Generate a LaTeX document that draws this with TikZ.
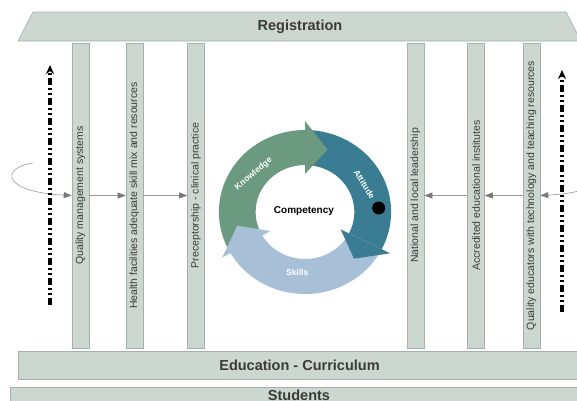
\documentclass[tikz,border=0pt]{standalone}
\usepackage{fontspec}
\setmainfont{Liberation Sans}
\usetikzlibrary{arrows.meta}
\definecolor{bandfill}{HTML}{CDD7D2}
\definecolor{bandline}{HTML}{A6B0AB}
\definecolor{txt}{HTML}{3A3A3A}
\definecolor{flowgray}{HTML}{9A9A9A}
\definecolor{headgray}{HTML}{7A7A7A}
\definecolor{kgreen}{HTML}{6C9A80}
\definecolor{ateal}{HTML}{3A7D92}
\definecolor{sblue}{HTML}{A7C0D7}
\begin{document}
\begin{tikzpicture}[x=1pt,y=-1pt,
  band/.style={fill=bandfill,draw=bandline,line width=0.6pt},
  bar/.style={band,rotate=90,minimum width=305pt,minimum height=17pt,inner sep=0pt,
    font=\fontsize{10.5}{12}\selectfont,text=txt},
  bigtext/.style={font=\fontsize{14.5}{16}\selectfont\bfseries,text=txt},
  flow/.style={draw=flowgray,line width=0.6pt,-{Triangle[length=8pt,width=6pt,color=headgray]}},
  dda/.style={line width=3.2pt,dash pattern=on 7pt off 3pt on 2pt off 3pt on 2pt off 3pt,
    -{Stealth[length=9pt,width=8pt]}},
  ctext/.style={font=\fontsize{8.5}{10}\selectfont\bfseries,text=white}
]
\useasboundingbox (0,0) rectangle (577,400);
\clip (0,0) rectangle (577,400);
\fill[white] (0,0) rectangle (577,400);

% top band
\path[band] (33,12) -- (566,12) -- (581,41) -- (18,41) -- cycle;
\node[bigtext] (reg) at (300,26.5) {Registration};

% bottom bands
\path[band] (18,351) rectangle (600,379);
\node[bigtext] (edu) at (299.5,365) {Education - Curriculum};
\path[band] (10,387) rectangle (600,430);
\node[bigtext,anchor=base] (stu) at (299,400.5) {Students};

% vertical bars
\node[bar] (b1) at (80.5,195.5) {Quality management systems};
\node[bar] (b2) at (134.5,195.5) {Health facilities adequate skill mix and resources};
\node[bar] (b3) at (196,195.5) {Preceptorship - clinical practice};
\node[bar] (b4) at (415.5,195.5) {National and local leadership};
\node[bar] (b5) at (476,195.5) {Accredited educational institutes};
\node[bar] (b6) at (531.5,195.5) {Quality educators with technology and teaching resources};

% flow arrows
\coordinate (lstart) at (33,163);
\coordinate (rstart) at (579,163);
\draw[flow] (lstart) .. controls (0,168) and (2,192) .. (b1.north);
\draw[flow] (b1.south) -- (b2.north);
\draw[flow] (b2.south) -- (b3.north);
\draw[flow] (rstart) .. controls (612,168) and (610,192) .. (b6.south);
\draw[flow] (b6.north) -- (b5.south);
\draw[flow] (b5.north) -- (b4.south);

% dash-dot arrows
\coordinate (la) at (50,305);
\coordinate (lb) at (50,65);
\coordinate (ra) at (562,312);
\coordinate (rb) at (562,70);
\draw[dda] (la) -- (lb);
\draw[dda] (ra) -- (rb);

% competency cycle
\begin{scope}[shift={(305,212)},x=1.05pt,y=1pt]
  % bodies
  \fill[kgreen] (210:82) arc[start angle=210,end angle=90,radius=82]
     -- (90:47) arc[start angle=90,end angle=210,radius=47] -- cycle;
  \fill[ateal] (90:82) arc[start angle=90,end angle=-27,radius=82]
     -- (-27:47) arc[start angle=-27,end angle=90,radius=47] -- cycle;
  \fill[sblue] (-27:82) arc[start angle=-27,end angle=-150,radius=82]
     -- (-150:47) arc[start angle=-150,end angle=-27,radius=47] -- cycle;
  % heads
  \fill[kgreen] (90:38) -- (90:91) -- (71:66) -- cycle;
  \fill[ateal] (-27:38) -- (-27:91) -- (-45:66) -- cycle;
  \fill[sblue] (-150:38) -- (-150:91) -- (-168:66) -- cycle;
  % labels
  \node[ctext,rotate=40] (know) at (142:62) {Knowledge};
  \node[ctext,rotate=-58] (att) at (26:63) {Attitude};
  \node[ctext] (sk) at (263:61) {Skills};
  \node[font=\fontsize{10}{12}\selectfont\bfseries] (comp) at (-1,1) {Competency};
\end{scope}
\fill[black] (378.7,208) circle[radius=6.5];
\end{tikzpicture}
\end{document}
